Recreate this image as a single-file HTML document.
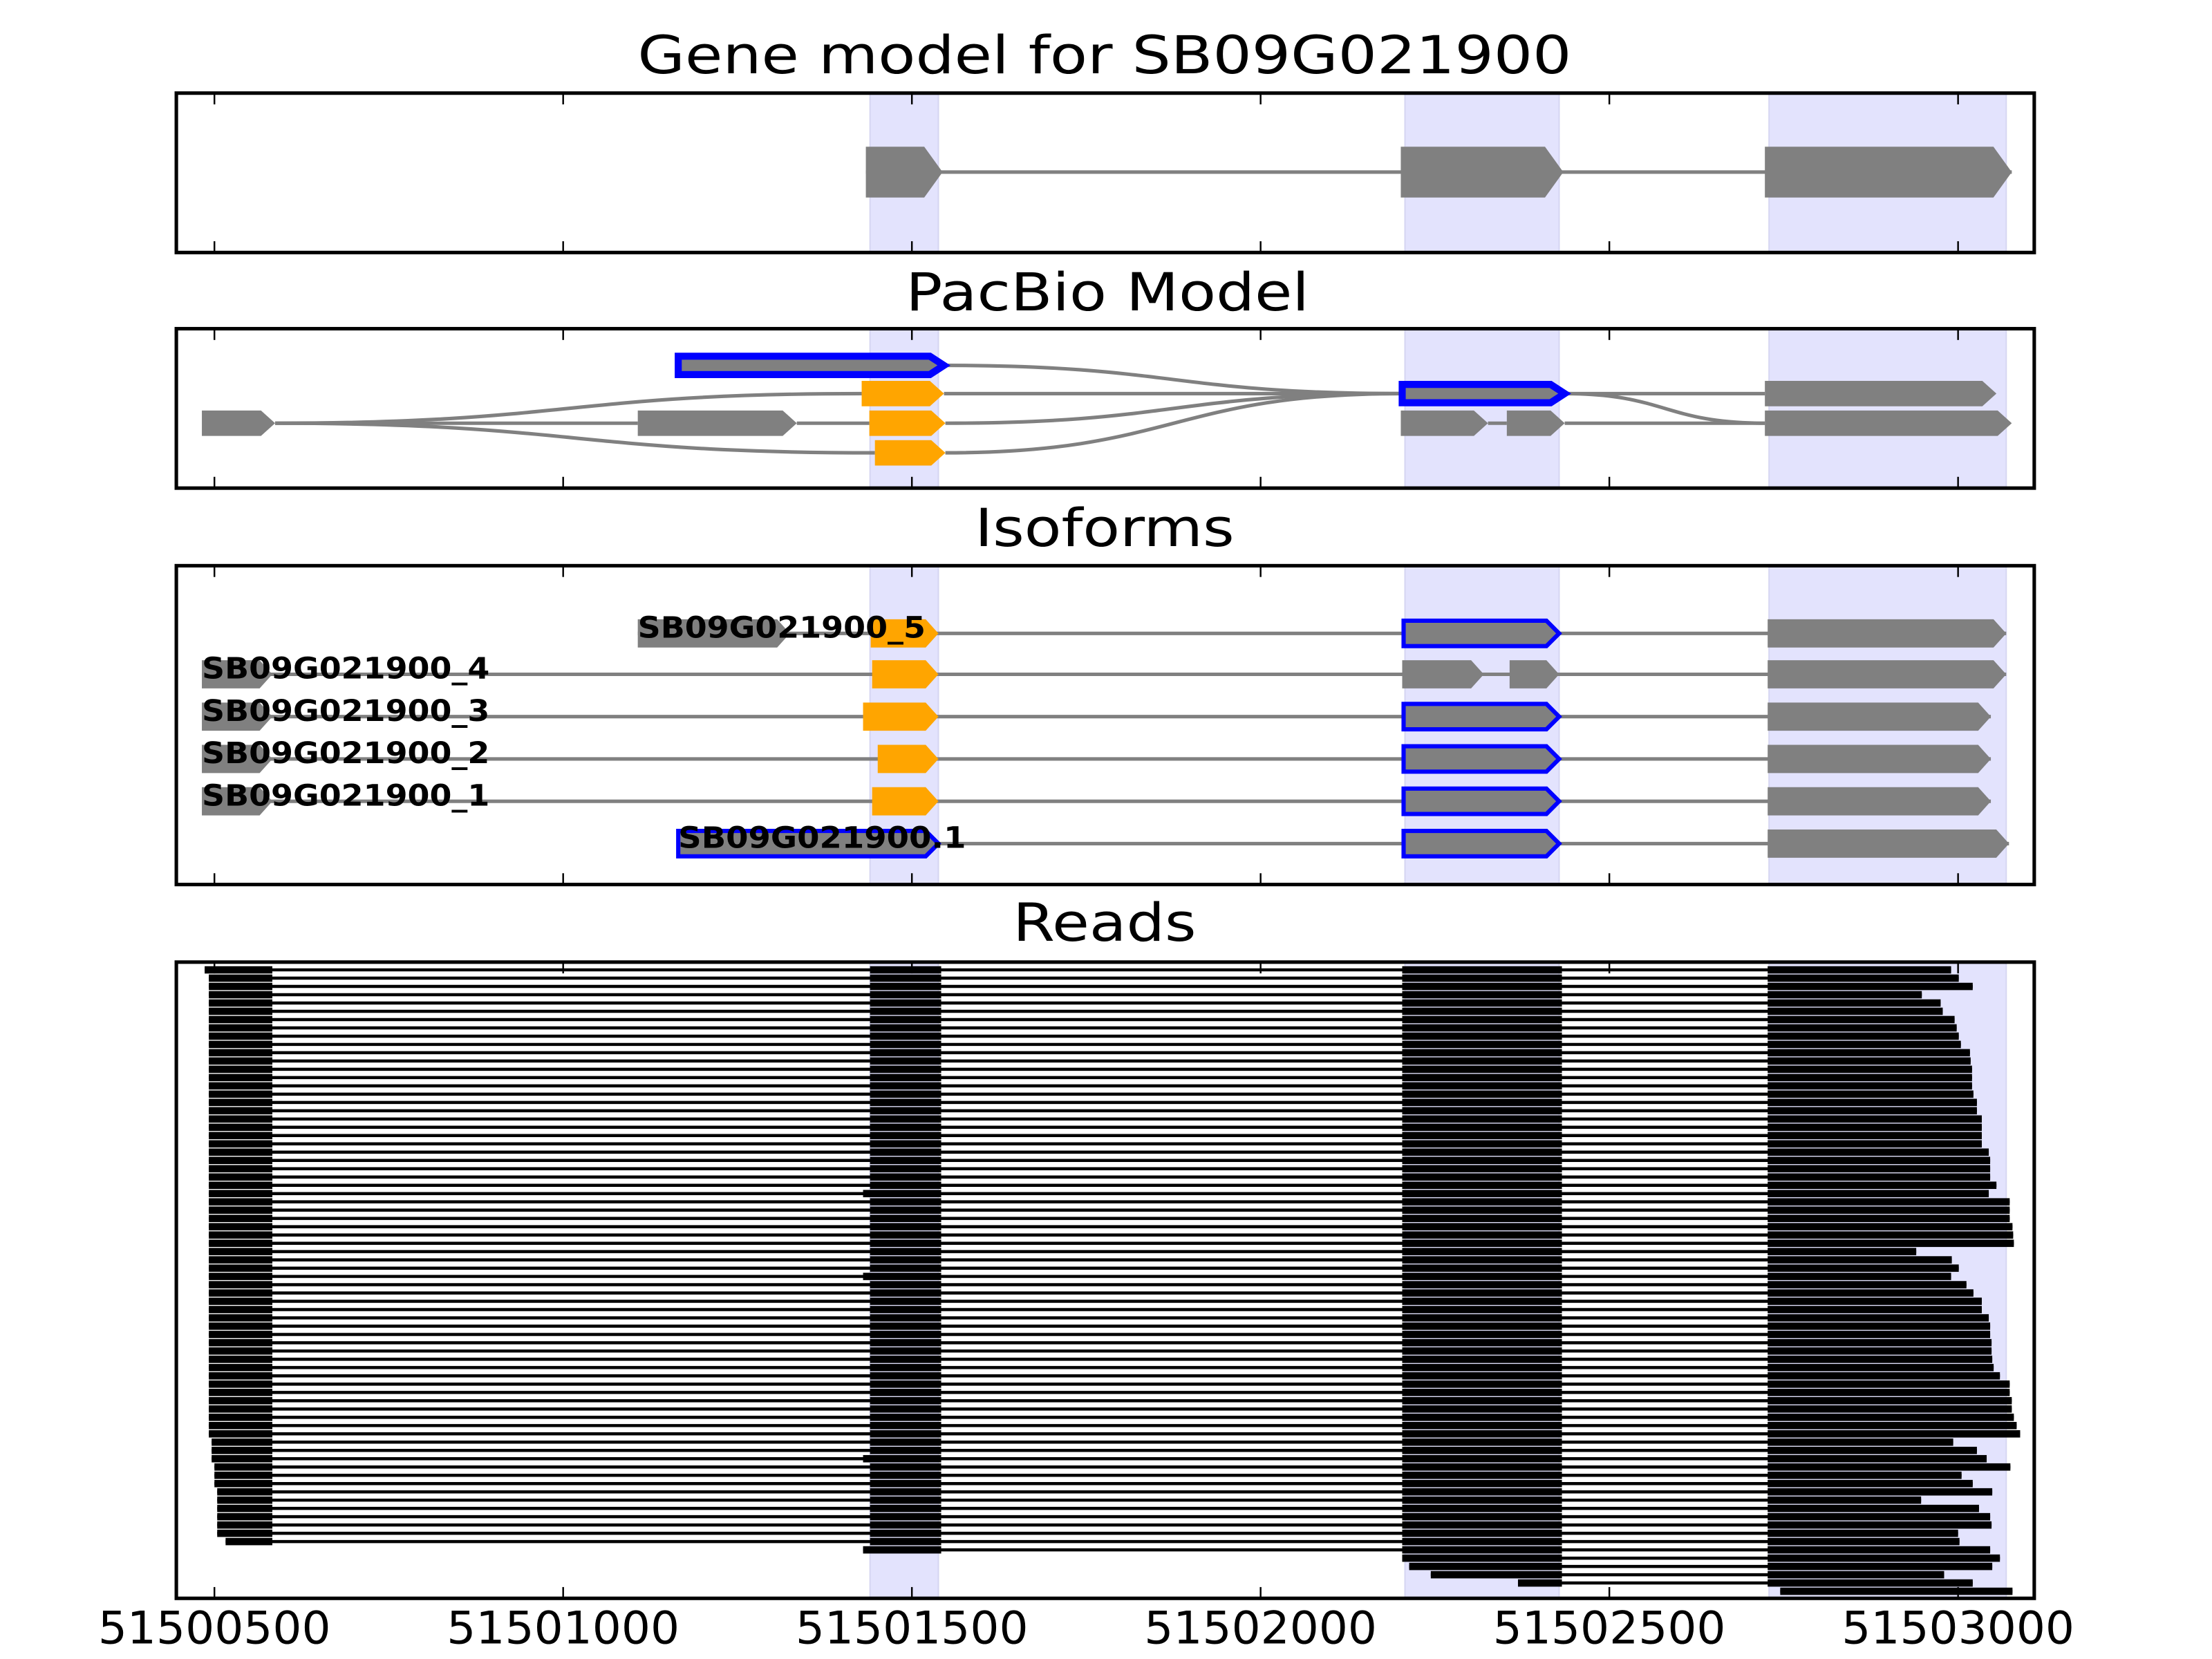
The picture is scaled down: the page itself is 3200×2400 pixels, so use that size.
<!DOCTYPE html>
<html><head><meta charset="utf-8"><title>Gene model for SB09G021900</title>
<style>html,body{margin:0;padding:0;background:#fff;}svg{display:block;}</style></head>
<body>
<svg id="chart" xmlns="http://www.w3.org/2000/svg" width="3200" height="2400" viewBox="0 0 1568 1176" preserveAspectRatio="none" font-family="'DejaVu Sans','Liberation Sans',sans-serif">
<rect x="0" y="0" width="1568" height="1176" fill="#fff"/>
<text x="783" y="52" font-size="37" text-anchor="middle" textLength="662" lengthAdjust="spacingAndGlyphs">Gene model for SB09G021900</text>
<text x="785" y="220" font-size="37" text-anchor="middle" textLength="286" lengthAdjust="spacingAndGlyphs">PacBio Model</text>
<text x="783" y="387" font-size="37" text-anchor="middle" textLength="184" lengthAdjust="spacingAndGlyphs">Isoforms</text>
<text x="783" y="667" font-size="37" text-anchor="middle" textLength="130" lengthAdjust="spacingAndGlyphs">Reads</text>
<g id="layer"></g>
</svg>
<script>
// ---- data ----
const xTicks = [51500500, 51501000, 51501500, 51502000, 51502500, 51503000];
const tickLabels = ["51500500", "51501000", "51501500", "51502000", "51502500", "51503000"];
const shadeStarts = [51501440, 51502207, 51502729];
const shadeEnds = [51501538, 51502428, 51503069];

// gene model exons
const geneExonStarts = [51501434, 51502201, 51502723];
const geneExonEnds = [51501544, 51502434, 51503077];

// pacbio model exons: row index, start, end, kind
const pbRow = [0, 1, 1, 1, 2, 2, 2, 2, 2, 2, 3];
const pbStart = [51501165, 51501428, 51502203, 51502723, 51500482, 51501107, 51501439, 51502201, 51502353, 51502723, 51501447];
const pbEnd = [51501546, 51501546, 51502436, 51503055, 51500587, 51501335, 51501548, 51502326, 51502436, 51503077, 51501548];
const pbKind = ["b", "o", "b", "g", "g", "g", "o", "g", "g", "g", "o"];
// pacbio connections: from row,pos -> to row,pos
const pcFromRow = [2, 2, 2, 0, 1, 2, 3, 2, 2, 2, 1, 1];
const pcFromPos = [51500587, 51500587, 51500587, 51501546, 51501546, 51501548, 51501548, 51501335, 51502326, 51502436, 51502436, 51502436];
const pcToRow = [1, 2, 3, 1, 1, 1, 1, 2, 2, 2, 1, 2];
const pcToPos = [51501428, 51501107, 51501447, 51502203, 51502203, 51502203, 51502203, 51501439, 51502353, 51502723, 51502723, 51502723];

// isoforms
const isoNames = ["SB09G021900_5", "SB09G021900_4", "SB09G021900_3", "SB09G021900_2", "SB09G021900_1", "SB09G021900.1"];
const isoExonRow = [0,0,0,0, 1,1,1,1,1, 2,2,2,2, 3,3,3,3, 4,4,4,4, 5,5,5];
const isoExonStart = [51501107,51501441,51502205,51502727, 51500482,51501443,51502203,51502357,51502727, 51500482,51501430,51502205,51502727, 51500482,51501451,51502205,51502727, 51500482,51501443,51502205,51502727, 51501165,51502205,51502727];
const isoExonEnd = [51501325,51501538,51502428,51503069, 51500583,51501538,51502320,51502428,51503069, 51500583,51501538,51502428,51503047, 51500583,51501538,51502428,51503047, 51500583,51501538,51502428,51503047, 51501538,51502428,51503073];
const isoExonKind = ["g","o","b","g", "g","o","g","g","g", "g","o","b","g", "g","o","b","g", "g","o","b","g", "b","b","g"];

// reads
const readStarts = [51500486,51500492,51500492,51500492,51500492,51500492,51500492,51500492,51500492,51500492,
51500492,51500492,51500492,51500492,51500492,51500492,51500492,51500492,51500492,51500492,
51500492,51500492,51500492,51500492,51500492,51500492,51500492,51500492,51500492,51500492,
51500492,51500492,51500492,51500492,51500492,51500492,51500492,51500492,51500492,51500492,
51500492,51500492,51500492,51500492,51500492,51500492,51500492,51500492,51500492,51500492,
51500492,51500492,51500492,51500492,51500492,51500492,51500492,51500496,51500496,51500496,
51500500,51500500,51500500,51500504,51500504,51500504,51500504,51500504,51500504,51500516,
51501430,51502203,51502213,51502244,51502369,51502745];
const readEnds = [51502990,51503001,51503021,51502948,51502975,51502978,51502995,51502998,51503001,51503004,
51503017,51503018,51503020,51503020,51503020,51503022,51503027,51503027,51503034,51503034,
51503034,51503034,51503044,51503046,51503046,51503046,51503055,51503044,51503074,51503074,
51503074,51503078,51503079,51503080,51502940,51502991,51503001,51502990,51503012,51503022,
51503034,51503034,51503044,51503046,51503046,51503048,51503048,51503049,51503051,51503060,
51503074,51503074,51503077,51503077,51503080,51503084,51503089,51502993,51503027,51503041,
51503075,51503005,51503021,51503049,51502947,51503030,51503046,51503048,51503000,51503002,
51503046,51503060,51503049,51502980,51503021,51503078];
const readAltExon2Rows = [27, 37, 59, 70];
const readExonStarts = [51500400, 51501440, 51502203, 51502727];
const readExonEnds = [51500583, 51501542, 51502432, 51503200];

// ---- drawing ----
const NS = "http://www.w3.org/2000/svg";
const layer = document.getElementById("layer");
const X0 = 152, PX_PER_UNIT = 247.2 / 500;
function xs(v) { return X0 + (v - 51500500) * PX_PER_UNIT; }
const L = 125, R = 1442;
const panels = [[66, 179, "gene-model-panel"], [233, 346, "pacbio-panel"], [401, 627, "isoforms-panel"], [682, 1133, "reads-panel"]];
const GRAY = "#808080", ORANGE = "#ffa500", BLUE = "#0000ff";

function mk(tag, attrs, parent) {
  const e = document.createElementNS(NS, tag);
  for (const k in attrs) e.setAttribute(k, attrs[k]);
  (parent || layer).appendChild(e);
  return e;
}
function arrowPts(x1, x2, y, h, tip) {
  const t = Math.min(tip, (x2 - x1) * 0.5);
  return [[x1, y - h], [x2 - t, y - h], [x2, y], [x2 - t, y + h], [x1, y + h]].map(p => p.join(",")).join(" ");
}
function exon(x1, x2, y, h, tip, kind, sw, parent) {
  const p = mk("polygon", { points: arrowPts(x1, x2, y, h, tip), fill: kind === "o" ? ORANGE : GRAY }, parent);
  if (kind === "b") { p.setAttribute("stroke", BLUE); p.setAttribute("stroke-width", sw); }
  
  
  return p;
}

panels.forEach(([top, bot, name], pi) => {
  const g = mk("g", {});
  
  
  for (let i = 0; i < shadeStarts.length; i++) {
    const r = mk("rect", { x: xs(shadeStarts[i]), y: top, width: xs(shadeEnds[i]) - xs(shadeStarts[i]), height: bot - top, fill: "#e3e3fd", stroke: "#d6d6f2", "stroke-width": 1 }, g);
    
    
  }
  panels[pi].push(g);
});

// gene model
(function () {
  const g = panels[0][3], y = 122;
  const ln = mk("line", { x1: xs(geneExonStarts[0]), x2: xs(geneExonEnds[geneExonEnds.length - 1]), y1: y, y2: y, stroke: GRAY, "stroke-width": 2.5 }, g);
  
  
  for (let i = 0; i < geneExonStarts.length; i++) exon(xs(geneExonStarts[i]), xs(geneExonEnds[i]), y, 18, 13, "g", 0, g);
})();

// pacbio
(function () {
  const g = panels[1][3];
  const rowY = [259, 279, 300, 321];
  for (let i = 0; i < pcFromRow.length; i++) {
    const x1 = xs(pcFromPos[i]), x2 = xs(pcToPos[i]), y1 = rowY[pcFromRow[i]], y2 = rowY[pcToRow[i]];
    const xm = (x1 + x2) / 2;
    const d = y1 === y2 ? `M${x1},${y1} L${x2},${y2}` : `M${x1},${y1} C${xm},${y1} ${xm},${y2} ${x2},${y2}`;
    const p = mk("path", { d: d, fill: "none", stroke: GRAY, "stroke-width": 2.5 }, g);
    
    
  }
  for (let i = 0; i < pbRow.length; i++) {
    const k = pbKind[i];
    exon(xs(pbStart[i]), xs(pbEnd[i]), rowY[pbRow[i]], k === "b" ? 6.5 : 9, 10, k, 5, g);
  }
})();

// isoforms
(function () {
  const g = panels[2][3];
  const rowY = [449, 478, 508, 538, 568, 598];
  for (let r = 0; r < isoNames.length; r++) {
    let mn = Infinity, mx = -Infinity;
    for (let i = 0; i < isoExonRow.length; i++) if (isoExonRow[i] === r) { mn = Math.min(mn, isoExonStart[i]); mx = Math.max(mx, isoExonEnd[i]); }
    const ln = mk("line", { x1: xs(mn), x2: xs(mx), y1: rowY[r], y2: rowY[r], stroke: GRAY, "stroke-width": 2.5 }, g);
    
    
  }
  for (let i = 0; i < isoExonRow.length; i++) {
    const k = isoExonKind[i];
    exon(xs(isoExonStart[i]), xs(isoExonEnd[i]), rowY[isoExonRow[i]], k === "b" ? 9 : 10, 9, k, 3, g);
  }
  for (let r = 0; r < isoNames.length; r++) {
    let mn = Infinity;
    for (let i = 0; i < isoExonRow.length; i++) if (isoExonRow[i] === r) mn = Math.min(mn, isoExonStart[i]);
    const t = mk("text", { x: xs(mn), y: rowY[r] + 3, "font-size": 21, "font-weight": "bold", textLength: 204, lengthAdjust: "spacingAndGlyphs" }, g);
    t.textContent = isoNames[r];
    
    
  }
})();

// reads
(function () {
  const g = panels[3][3];
  const y0 = 687.5, dy = (1128 - 687.5) / 75;
  for (let r = 0; r < readStarts.length; r++) {
    const y = y0 + r * dy, s = readStarts[r], e = readEnds[r];
    const ln = mk("line", { x1: xs(s), x2: xs(e), y1: y, y2: y, stroke: "#000", "stroke-width": 2.2 }, g);
    
    
    for (let k = 0; k < readExonStarts.length; k++) {
      let es = readExonStarts[k];
      if (k === 1 && readAltExon2Rows.indexOf(r) >= 0) es = 51501430;
      const a = Math.max(es, s), b = Math.min(readExonEnds[k], e);
      if (b <= a) continue;
      const rc = mk("rect", { x: xs(a), y: y - 2.6, width: xs(b) - xs(a), height: 5.2, fill: "#000" }, g);
      
      
    }
  }
})();

// frames and ticks
panels.forEach(([top, bot, name, g], pi) => {
  xTicks.forEach(v => {
    const x = xs(v);
    const t1 = mk("line", { x1: x, x2: x, y1: top, y2: top + 8, stroke: "#000", "stroke-width": 1.2 }, g);
    
    
    const t2 = mk("line", { x1: x, x2: x, y1: bot, y2: bot - 8, stroke: "#000", "stroke-width": 1.2 }, g);
    
    
  });
  const fr = mk("rect", { x: L, y: top, width: R - L, height: bot - top, fill: "none", stroke: "#000", "stroke-width": 2.5 }, g);
  
  
});
xTicks.forEach((v, i) => {
  const t = mk("text", { x: xs(v), y: 1165, "font-size": 32, "text-anchor": "middle", textLength: 165, lengthAdjust: "spacingAndGlyphs" });
  t.textContent = tickLabels[i];
  
  
});
</script>
</body></html>
